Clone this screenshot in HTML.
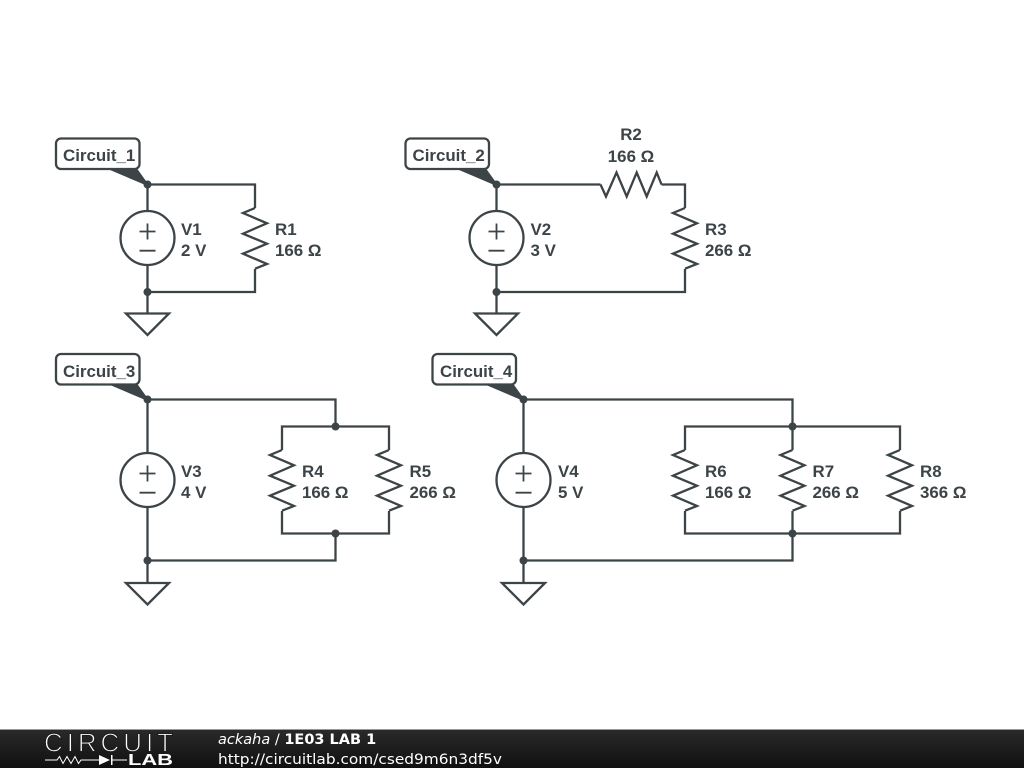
<!DOCTYPE html>
<html><head><meta charset="utf-8"><style>
html,body{margin:0;padding:0;background:#fff;width:1024px;height:768px;overflow:hidden}
svg{display:block}
.w{fill:none;stroke:#3c4448;stroke-width:2.3;stroke-linejoin:miter}
.t{font:bold 16.9px "Liberation Sans",sans-serif;fill:#3c4448}
.d{fill:#3c4448}
.b{fill:#fff;stroke:#3c4448;stroke-width:2.3}
.f{font-family:"DejaVu Sans",sans-serif;fill:#fff;font-size:14.5px}
</style></head><body>
<svg width="1024" height="768" viewBox="0 0 1024 768" xmlns="http://www.w3.org/2000/svg">
<defs>
<linearGradient id="g" x1="0" y1="0" x2="0" y2="1"><stop offset="0" stop-color="#2a2a2a"/><stop offset="1" stop-color="#101010"/></linearGradient>
<path id="rv" class="w" d="M0,-30V-30L-12,-25L12,-14.7L-12,-4.3L12,5.7L-12,15.7L12,26L0,30.7"/>
<g id="src"><circle class="w" r="27" fill="#fff"/><path class="w" d="M-8,-6.5H8M0,-14.5V1.5M-8,12.7H8" style="stroke-width:1.8"/></g>
<path id="gnd" class="w" d="M-21.5,0H21.5L0,21.5Z"/>
<path id="lead" class="d" d="M-41,-16H-10.5L1,0L-1,1Z"/>
</defs>

<!-- Circuit 1 -->
<path class="w" d="M147.5,184.5V211M147.5,265V313.5M147.5,184.5H255V208M255,269V292H147.5"/>
<use href="#src" x="147.5" y="238"/><use href="#rv" x="255" y="238"/><use href="#gnd" x="147.5" y="313.5"/>
<use href="#lead" x="147.5" y="184.5"/>
<circle class="d" cx="147.5" cy="184.5" r="4"/><circle class="d" cx="147.5" cy="292" r="4"/>
<rect class="b" x="56" y="138.5" width="83.5" height="30.5" rx="5"/>
<text class="t" x="63" y="161">Circuit_1</text>
<text class="t" x="181" y="235">V1</text><text class="t" x="181" y="256">2 V</text>
<text class="t" x="275" y="235">R1</text><text class="t" x="275" y="256">166 Ω</text>

<!-- Circuit 2 -->
<path class="w" d="M496.5,184.5V211M496.5,265V313.5M496.5,184.5H600.5M661.5,184.5H685V208M685,269V292H496.5"/>
<path class="w" d="M600.5,184.5L606,196.5L616.5,172.5L626.7,196.5L636.7,172.5L646.7,196.5L656.7,172.5L661.5,184.5"/>
<use href="#src" x="496.5" y="238"/><use href="#rv" x="685" y="238"/><use href="#gnd" x="496.5" y="313.5"/>
<use href="#lead" x="496.5" y="184.5"/>
<circle class="d" cx="496.5" cy="184.5" r="4"/><circle class="d" cx="496.5" cy="292" r="4"/>
<rect class="b" x="405.5" y="138.5" width="83.5" height="30.5" rx="5"/>
<text class="t" x="412.5" y="161">Circuit_2</text>
<text class="t" x="530.5" y="235">V2</text><text class="t" x="530.5" y="256">3 V</text>
<text class="t" x="631" y="140" text-anchor="middle">R2</text><text class="t" x="631" y="162" text-anchor="middle">166 Ω</text>
<text class="t" x="705" y="235">R3</text><text class="t" x="705" y="256">266 Ω</text>

<!-- Circuit 3 -->
<path class="w" d="M147.5,399.5V453M147.5,507V583M147.5,399.5H335.5V426.5M282,450V426.5H389V450M282,511V533.5H389V511M335.5,533.5V560.5H147.5"/>
<use href="#src" x="147.5" y="480"/><use href="#rv" x="282" y="480"/><use href="#rv" x="389" y="480"/><use href="#gnd" x="147.5" y="583"/>
<use href="#lead" x="147.5" y="399.5"/>
<circle class="d" cx="147.5" cy="399.5" r="4"/><circle class="d" cx="147.5" cy="560.5" r="4"/><circle class="d" cx="335.5" cy="426.5" r="4"/><circle class="d" cx="335.5" cy="533.5" r="4"/>
<rect class="b" x="56" y="354" width="83.5" height="30.5" rx="5"/>
<text class="t" x="63" y="377">Circuit_3</text>
<text class="t" x="181" y="477">V3</text><text class="t" x="181" y="498">4 V</text>
<text class="t" x="302" y="477">R4</text><text class="t" x="302" y="498">166 Ω</text>
<text class="t" x="409.5" y="477">R5</text><text class="t" x="409.5" y="498">266 Ω</text>

<!-- Circuit 4 -->
<path class="w" d="M523.5,399.5V453M523.5,507V583M523.5,399.5H792.5V450M685,450V426.5H900V450M685,511V533.5H900V511M792.5,511V560.5H523.5"/>
<use href="#src" x="523.5" y="480"/><use href="#rv" x="685" y="480"/><use href="#rv" x="792.5" y="480"/><use href="#rv" x="900" y="480"/><use href="#gnd" x="523.5" y="583"/>
<use href="#lead" x="523.5" y="399.5"/>
<circle class="d" cx="523.5" cy="399.5" r="4"/><circle class="d" cx="523.5" cy="560.5" r="4"/><circle class="d" cx="792.5" cy="426.5" r="4"/><circle class="d" cx="792.5" cy="533.5" r="4"/>
<rect class="b" x="432.5" y="354" width="83.5" height="30.5" rx="5"/>
<text class="t" x="440" y="377">Circuit_4</text>
<text class="t" x="558" y="477">V4</text><text class="t" x="558" y="498">5 V</text>
<text class="t" x="705" y="477">R6</text><text class="t" x="705" y="498">166 Ω</text>
<text class="t" x="812.5" y="477">R7</text><text class="t" x="812.5" y="498">266 Ω</text>
<text class="t" x="920" y="477">R8</text><text class="t" x="920" y="498">366 Ω</text>

<!-- Footer -->
<rect x="0" y="729" width="1024" height="39" fill="url(#g)"/>
<rect x="0" y="729" width="1024" height="1" fill="#999"/>
<text x="44" y="751.5" font-family="Liberation Sans,sans-serif" font-size="26" fill="#fff" stroke="#1d1d1d" stroke-width="1.1" textLength="129" lengthAdjust="spacing">CIRCUIT</text>
<path d="M45,760H57L59.5,756.5L63,763.5L67,756.5L71,763.5L75,756.5L78.5,763.5L81,760H100M111,760H127" fill="none" stroke="#fff" stroke-width="1"/>
<path d="M99,755V765L110,760Z M111,755H112.5V765H111Z" fill="#fff"/>
<text x="128" y="765" font-family="Liberation Sans,sans-serif" font-weight="bold" font-size="15.5" fill="#fff" textLength="45" lengthAdjust="spacingAndGlyphs">LAB</text>
<text class="f" x="218" y="744"><tspan font-style="italic">ackaha</tspan> / <tspan font-weight="bold">1E03 LAB 1</tspan></text>
<text class="f" x="218" y="764" textLength="284" lengthAdjust="spacingAndGlyphs">http://circuitlab.com/csed9m6n3df5v</text>
</svg>
</body></html>
